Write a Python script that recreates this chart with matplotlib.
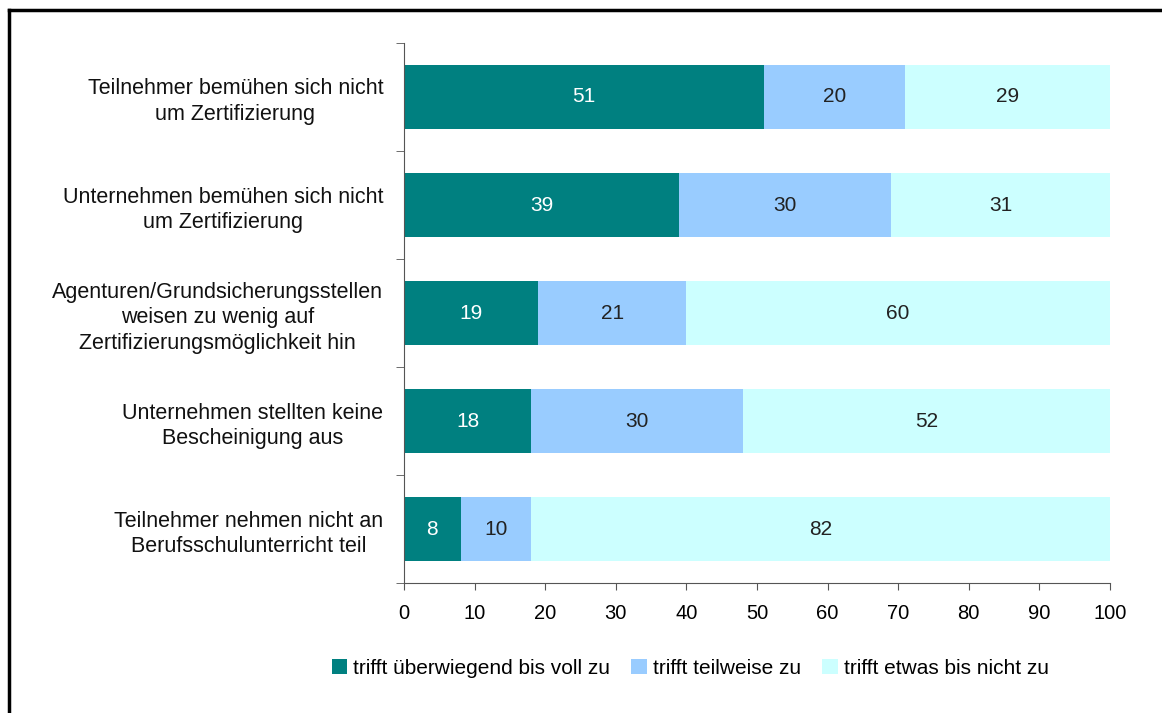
import matplotlib.pyplot as plt
from matplotlib.lines import Line2D
import numpy as np

plt.rcParams["font.family"] = ["Liberation Sans", "DejaVu Sans"]

categories = [
  "Teilnehmer bemühen sich nicht\num Zertifizierung",
  "Unternehmen bemühen sich nicht\num Zertifizierung",
  "Agenturen/Grundsicherungsstellen\nweisen zu wenig auf\nZertifizierungsmöglichkeit hin",
  "Unternehmen stellten keine\nBescheinigung aus",
  "Teilnehmer nehmen nicht an\nBerufsschulunterricht teil",
]
series_names = ["trifft überwiegend bis voll zu", "trifft teilweise zu", "trifft etwas bis nicht zu"]
voll = [51, 39, 19, 18, 8]
teilweise = [20, 30, 21, 30, 10]
nicht = [29, 31, 60, 52, 82]
colors = ["#008080", "#99CCFF", "#CCFFFF"]
text_colors = ["white", "#222222", "#222222"]
x_ticks = list(range(0, 101, 10))

fs = 14.5

fig = plt.figure(figsize=(11.62, 7.13), dpi=100)
ax = fig.add_axes([0.3477, 0.1823, 0.6075, 0.7574])

y = np.arange(len(categories))
left = np.zeros(len(categories))
for name, values, color, tcolor in zip(series_names, [voll, teilweise, nicht], colors, text_colors):
  bars = ax.barh(y, values, left=left, height=0.6, color=color, label=name)
  for bar, v in zip(bars, values):
    ax.text(bar.get_x() + bar.get_width() / 2, bar.get_y() + bar.get_height() / 2, str(v),
            ha="center", va="center", color=tcolor, fontsize=15)
  left += np.array(values)

ax.set_xlim(0, 100)
ax.set_ylim(len(categories) - 0.5, -0.5)
ax.set_xticks(x_ticks)
ax.set_yticks(y)
ax.set_yticklabels(categories)
plt.setp(ax.get_yticklabels(), multialignment="center", fontsize=15.5, color="#111111",
         linespacing=1.3)
ax.set_yticks(np.arange(-0.5, len(categories)), minor=True)
ax.tick_params(axis="y", which="major", length=0, pad=15)
ax.tick_params(axis="y", which="minor", length=6, direction="out", color="#555555")
ax.tick_params(axis="x", length=5, direction="out", labelsize=fs, color="#555555", pad=10)
for side in ["top", "right"]:
  ax.spines[side].set_visible(False)
for side in ["left", "bottom"]:
  ax.spines[side].set_color("#555555")

ax.legend(loc="center", bbox_to_anchor=(0.594, 0.063), bbox_transform=fig.transFigure,
          ncol=3, frameon=False, fontsize=15, handlelength=0.75, handleheight=0.75,
          handletextpad=0.3, columnspacing=1.0)

fig.add_artist(Line2D([0.008, 0.008], [0, 0.986], transform=fig.transFigure, color="black", lw=2.5))
fig.add_artist(Line2D([0.008, 1], [0.986, 0.986], transform=fig.transFigure, color="black", lw=2.5))

fig.savefig("out.png", dpi=100)
